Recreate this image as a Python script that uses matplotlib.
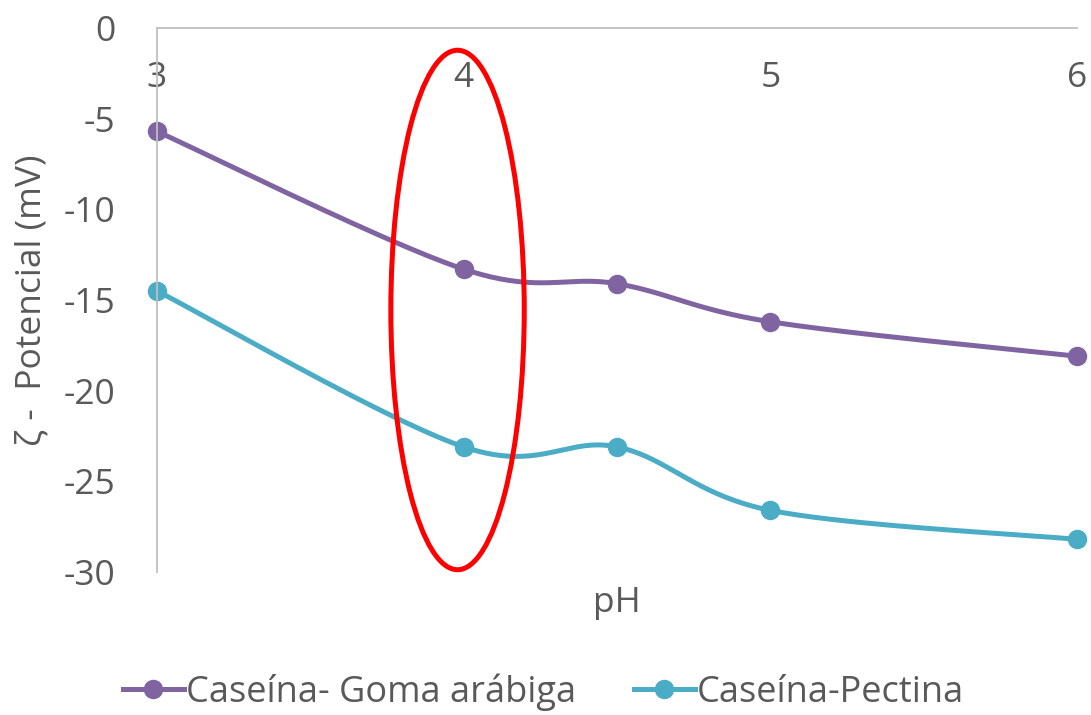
import numpy as np
import matplotlib
matplotlib.use("Agg")
import matplotlib.pyplot as plt
from matplotlib.patches import Ellipse

ph = [3, 4, 4.5, 5, 6]
goma_arabiga = [-5.7, -13.3, -14.1, -16.2, -18.1]
pectina = [-14.5, -23.1, -23.1, -26.6, -28.2]
series_labels = ["Caseína- Goma arábiga", "Caseína-Pectina"]
yticks = [0, -5, -10, -15, -20, -25, -30]
xticks = [3, 4, 5, 6]

PURPLE = "#8064A2"
TEAL = "#4BACC6"
GREY = "#595959"
AXIS = "#BFBFBF"
FS = 25.5

plt.rcParams["font.family"] = ["Open Sans", "DejaVu Sans"]


def smooth(xs, ys, n=40):
    # Excel-style smoothed line: cubic Bezier segments through the points
    x = np.asarray(xs, float)
    y = np.asarray(ys, float)
    px, py = [], []
    for i in range(len(x) - 1):
        i0 = max(i - 1, 0)
        i3 = min(i + 2, len(x) - 1)
        c1 = (x[i] + (x[i + 1] - x[i0]) / 6, y[i] + (y[i + 1] - y[i0]) / 6)
        c2 = (x[i + 1] - (x[i3] - x[i]) / 6, y[i + 1] - (y[i3] - y[i]) / 6)
        t = np.linspace(0, 1, n)
        bx = ((1 - t) ** 3 * x[i] + 3 * (1 - t) ** 2 * t * c1[0]
              + 3 * (1 - t) * t ** 2 * c2[0] + t ** 3 * x[i + 1])
        by = ((1 - t) ** 3 * y[i] + 3 * (1 - t) ** 2 * t * c1[1]
              + 3 * (1 - t) * t ** 2 * c2[1] + t ** 3 * y[i + 1])
        px.extend(bx)
        py.extend(by)
    return px, py


fig = plt.figure(figsize=(10.91, 7.15), dpi=100)
ax = fig.add_axes([0.1439, 0.2, 0.8433, 0.7608])

for vals, color, label in [(goma_arabiga, PURPLE, series_labels[0]),
                           (pectina, TEAL, series_labels[1])]:
    sx, sy = smooth(ph, vals)
    ax.plot(sx, sy, color=color, lw=3.6, solid_capstyle="round", clip_on=False)
    ax.plot(ph, vals, "o", color=color, ms=13, clip_on=False)
    ax.plot([], [], "-o", color=color, lw=3.6, ms=13, label=label)

ax.add_patch(Ellipse((3.98, -15.55), 0.435, 28.65, fill=False,
                     edgecolor="red", lw=3.6, clip_on=False, zorder=5))

ax.set_xlim(3, 6)
ax.set_ylim(-30, 0)
ax.set_xticks(xticks)
ax.set_yticks(yticks)
ax.set_yticklabels([str(v) for v in yticks])

for s in ["top", "right"]:
    ax.spines[s].set_visible(False)
ax.spines["bottom"].set_position(("data", 0))
ax.spines["bottom"].set_color(AXIS)
ax.spines["left"].set_color(AXIS)
ax.spines["bottom"].set_linewidth(1.3)
ax.spines["left"].set_linewidth(1.3)

ax.tick_params(axis="x", length=0, pad=24, labelsize=FS, labelcolor=GREY)
ax.tick_params(axis="y", length=0, pad=30, labelsize=FS, labelcolor=GREY)

ax.set_xlabel("pH", fontsize=FS, color=GREY)
ax.xaxis.set_label_coords(0.5, -0.025)
ax.set_ylabel("ζ -  Potencial (mV)", fontsize=FS, color=GREY)
ax.yaxis.set_label_coords(-0.118, 0.5)

leg = fig.legend(loc="lower center", bbox_to_anchor=(0.498, -0.04), ncol=2,
                 frameon=False, fontsize=26, handlelength=1.7,
                 handletextpad=0.05, columnspacing=1.6)
for t in leg.get_texts():
    t.set_color(GREY)

fig.savefig("out.png", dpi=100)
